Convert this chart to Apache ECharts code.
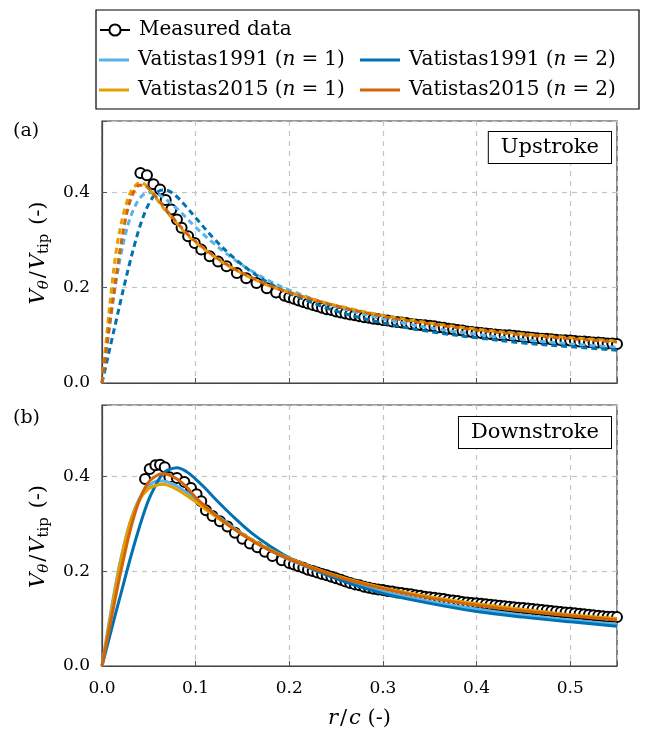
<!DOCTYPE html>
<html><head><meta charset="utf-8">
<script src="https://cdn.jsdelivr.net/npm/echarts@6/dist/echarts.min.js"></script>
<style>html,body{margin:0;padding:0;background:#fff}#c{width:646px;height:731px}</style>
</head><body><div id="c"></div>
<script>
// ---------- DATA ----------
const seriesNames = ['Measured data', 'Vatistas1991 (n = 1)', 'Vatistas1991 (n = 2)', 'Vatistas2015 (n = 1)', 'Vatistas2015 (n = 2)'];
const xTicks = [0.0, 0.1, 0.2, 0.3, 0.4, 0.5];
const yTicks = [0.0, 0.2, 0.4];

// (a) Upstroke - measured
const rMeasUp = [0.041,0.048,0.055,0.062,0.068,0.074,0.080,0.085,0.092,0.099,0.106,0.115,0.124,0.133,0.144,0.154,0.165,0.176,0.186,0.195,
  0.200,0.205,0.210,0.215,0.220,0.225,0.230,0.235,0.240,0.245,0.250,0.255,0.260,0.265,0.270,0.275,0.280,0.285,0.290,0.295,
  0.300,0.305,0.310,0.315,0.320,0.325,0.330,0.335,0.340,0.345,0.350,0.355,0.360,0.365,0.370,0.375,0.380,0.385,0.390,0.395,
  0.400,0.405,0.410,0.415,0.420,0.425,0.430,0.435,0.440,0.445,0.450,0.455,0.460,0.465,0.470,0.475,0.480,0.485,0.490,0.495,
  0.500,0.505,0.510,0.515,0.520,0.525,0.530,0.535,0.540,0.545,0.550];
const vMeasUp = [0.441,0.436,0.417,0.406,0.384,0.364,0.343,0.326,0.308,0.294,0.280,0.266,0.255,0.245,0.231,0.220,0.210,0.199,0.190,0.183,
  0.180,0.177,0.173,0.170,0.167,0.164,0.161,0.158,0.155,0.153,0.150,0.148,0.146,0.144,0.142,0.140,0.138,0.137,0.135,0.134,
  0.132,0.131,0.129,0.128,0.127,0.126,0.124,0.123,0.122,0.121,0.120,0.119,0.117,0.116,0.114,0.113,0.111,0.110,0.108,0.107,
  0.106,0.105,0.104,0.103,0.102,0.101,0.100,0.100,0.099,0.098,0.097,0.096,0.095,0.094,0.093,0.093,0.092,0.091,0.090,0.090,
  0.089,0.088,0.087,0.087,0.086,0.085,0.085,0.084,0.083,0.083,0.082];

// (a) Upstroke - models
const rModelUp = [0,0.005,0.01,0.015,0.02,0.025,0.03,0.035,0.04,0.045,0.05,0.055,0.06,0.065,0.07,0.08,0.09,0.1,0.12,0.14,0.16,0.18,0.2,0.25,0.3,0.35,0.4,0.45,0.5,0.55];
const v91n1Up = [0,0.076,0.148,0.213,0.268,0.312,0.346,0.370,0.387,0.396,0.400,0.399,0.396,0.390,0.383,0.366,0.347,0.327,0.292,0.261,0.235,0.213,0.195,0.160,0.135,0.116,0.102,0.091,0.082,0.075];
const v91n2Up = [0,0.043,0.087,0.130,0.173,0.215,0.255,0.292,0.326,0.354,0.376,0.392,0.402,0.405,0.404,0.391,0.370,0.347,0.302,0.264,0.233,0.208,0.188,0.151,0.126,0.108,0.095,0.084,0.076,0.069];
const v15n1Up = [0,0.100,0.195,0.275,0.330,0.370,0.398,0.413,0.420,0.418,0.408,0.395,0.382,0.369,0.357,0.335,0.313,0.295,0.265,0.240,0.220,0.203,0.190,0.163,0.142,0.126,0.113,0.103,0.095,0.088];
const v15n2Up = [0,0.075,0.150,0.222,0.288,0.343,0.382,0.405,0.415,0.415,0.408,0.397,0.385,0.372,0.360,0.337,0.315,0.297,0.266,0.241,0.221,0.204,0.190,0.162,0.140,0.124,0.111,0.101,0.093,0.086];

// (b) Downstroke - measured
const rMeasDn = [0.046,0.051,0.057,0.062,0.067,0.072,0.080,0.088,0.095,0.101,0.106,0.111,0.118,0.126,0.134,0.142,0.150,0.158,0.166,0.174,0.182,0.192,
  0.200,0.205,0.210,0.215,0.220,0.225,0.230,0.235,0.240,0.245,0.250,0.255,0.260,0.265,0.270,0.275,0.280,0.285,0.290,0.295,
  0.300,0.305,0.310,0.315,0.320,0.325,0.330,0.335,0.340,0.345,0.350,0.355,0.360,0.365,0.370,0.375,0.380,0.385,0.390,0.395,
  0.400,0.405,0.410,0.415,0.420,0.425,0.430,0.435,0.440,0.445,0.450,0.455,0.460,0.465,0.470,0.475,0.480,0.485,0.490,0.495,
  0.500,0.505,0.510,0.515,0.520,0.525,0.530,0.535,0.540,0.545,0.550];
const vMeasDn = [0.394,0.415,0.423,0.424,0.419,0.398,0.396,0.388,0.375,0.362,0.347,0.328,0.316,0.305,0.294,0.281,0.268,0.258,0.250,0.241,0.232,0.223,
  0.217,0.214,0.210,0.207,0.203,0.200,0.197,0.194,0.191,0.188,0.185,0.182,0.178,0.175,0.172,0.170,0.167,0.165,0.163,0.161,
  0.160,0.158,0.157,0.155,0.154,0.152,0.151,0.149,0.148,0.146,0.145,0.144,0.142,0.141,0.139,0.138,0.137,0.135,0.134,0.133,
  0.132,0.131,0.130,0.129,0.128,0.127,0.126,0.125,0.124,0.123,0.122,0.121,0.120,0.119,0.118,0.117,0.116,0.115,0.114,0.113,
  0.112,0.111,0.110,0.109,0.108,0.107,0.106,0.105,0.104,0.104,0.103];

// (b) Downstroke - models
const rModelDn = [0,0.005,0.01,0.015,0.02,0.03,0.04,0.05,0.06,0.065,0.07,0.08,0.09,0.1,0.11,0.12,0.14,0.16,0.18,0.2,0.25,0.3,0.35,0.4,0.45,0.5,0.55];
const v91n1Dn = [0,0.062,0.121,0.176,0.225,0.303,0.353,0.380,0.390,0.390,0.388,0.379,0.366,0.352,0.336,0.321,0.292,0.266,0.243,0.224,0.185,0.157,0.136,0.120,0.107,0.097,0.088];
const v91n2Dn = [0,0.038,0.076,0.114,0.151,0.225,0.293,0.351,0.391,0.405,0.413,0.418,0.410,0.394,0.375,0.354,0.315,0.280,0.252,0.228,0.184,0.153,0.132,0.115,0.103,0.093,0.084];
const v15n1Dn = [0,0.058,0.115,0.170,0.222,0.302,0.350,0.374,0.382,0.383,0.381,0.372,0.360,0.346,0.331,0.317,0.290,0.266,0.245,0.227,0.191,0.165,0.146,0.131,0.119,0.108,0.100];
const v15n2Dn = [0,0.050,0.100,0.150,0.198,0.285,0.350,0.388,0.403,0.405,0.404,0.394,0.378,0.355,0.337,0.320,0.290,0.264,0.243,0.225,0.189,0.163,0.143,0.128,0.116,0.106,0.097];

// ---------- STYLE ----------
const colors = ['#000000', '#56B4E9', '#0072B2', '#E69F00', '#D2640A'];
const FONT = '"DejaVu Serif", serif';

const zip = (r, v) => r.map((x, i) => [x, v[i]]);

function measuredSeries(idx, r, v) {
  return { name: seriesNames[0], type: 'line', xAxisIndex: idx, yAxisIndex: idx,
    data: zip(r, v), symbol: 'emptyCircle', symbolSize: 10, showSymbol: true,
    lineStyle: { color: '#000', width: 2 }, itemStyle: { color: '#000', borderColor: '#000', borderWidth: 1.6 },
    z: 2, animation: false };
}
function modelSeries(idx, k, r, v, dashed) {
  return { name: seriesNames[k], type: 'line', xAxisIndex: idx, yAxisIndex: idx,
    data: zip(r, v), symbol: 'none', smooth: 0.35,
    lineStyle: { color: colors[k], width: 3, type: dashed ? [6, 4] : 'solid' },
    itemStyle: { color: colors[k] }, z: 3, animation: false };
}

const series = [
  measuredSeries(1, rMeasDn, vMeasDn),
  modelSeries(1, 1, rModelDn, v91n1Dn, false),
  modelSeries(1, 2, rModelDn, v91n2Dn, false),
  modelSeries(1, 3, rModelDn, v15n1Dn, false),
  modelSeries(1, 4, rModelDn, v15n2Dn, false),
  measuredSeries(0, rMeasUp, vMeasUp),
  modelSeries(0, 1, rModelUp, v91n1Up, true),
  modelSeries(0, 2, rModelUp, v91n2Up, true),
  modelSeries(0, 3, rModelUp, v15n1Up, true),
  modelSeries(0, 4, rModelUp, v15n2Up, true)
];

const splitLine = { show: true, lineStyle: { color: '#c4c4c4', type: [5, 5], width: 1.2 } };
const fmtTick = (ticks) => (v) => { const t = ticks.find(x => Math.abs(x - v) < 1e-6); return t === undefined ? '' : t.toFixed(1); };

function xAxis(idx, showLabels) {
  return { type: 'value', gridIndex: idx, min: 0, max: 0.55, interval: 0.1,
    axisLine: { show: true, onZero: false, lineStyle: { color: '#444', width: 1.2 } },
    axisTick: { show: true, inside: true, length: 5, lineStyle: { color: '#555' } },
    axisLabel: { show: showLabels, formatter: fmtTick(xTicks), color: '#000', fontFamily: FONT, fontSize: 17, margin: 14 },
    splitLine,
    name: showLabels ? '{i|r}{s|/}{i|c}{n| (-)}' : '', nameLocation: 'middle', nameGap: 42,
    nameTextStyle: { color: '#000', fontFamily: FONT, fontSize: 21,
      rich: { i: { fontStyle: 'italic', fontFamily: FONT, fontSize: 21, color: '#000' },
              s: { fontFamily: FONT, fontSize: 21, color: '#000', padding: [0, 2, 0, 2] },
              n: { fontFamily: FONT, fontSize: 21, color: '#000' } } } };
}
function yAxis(idx) {
  return { type: 'value', gridIndex: idx, min: 0, max: 0.55, interval: 0.2,
    axisLine: { show: true, onZero: false, lineStyle: { color: '#444', width: 1.2 } },
    axisTick: { show: true, inside: true, length: 5, lineStyle: { color: '#555' } },
    axisLabel: { formatter: fmtTick(yTicks), color: '#000', fontFamily: FONT, fontSize: 17, margin: 12 },
    splitLine,
    name: '{i|V}{s|θ}{n|/}{i|V}{t|tip}{n| (-)}', nameLocation: 'middle', nameGap: 48, nameRotate: 90,
    nameTextStyle: { color: '#000', fontFamily: FONT, fontSize: 21,
      rich: {
        i: { fontStyle: 'italic', fontFamily: FONT, fontSize: 21, color: '#000', lineHeight: 28 },
        n: { fontFamily: FONT, fontSize: 21, color: '#000', lineHeight: 28, padding: [0, 2, 0, 2] },
        s: { fontStyle: 'italic', fontFamily: FONT, fontSize: 15, color: '#000', verticalAlign: 'bottom', lineHeight: 15 },
        t: { fontFamily: FONT, fontSize: 15, color: '#000', verticalAlign: 'bottom', lineHeight: 15 }
      } } };
}

const legendPos = [[99, 20], [99, 50], [360, 50], [99, 80], [360, 80]];
const legendIconW = [30, 30, 40, 30, 40];
const legends = seriesNames.map((nm, k) => ({
  data: [k === 0 ? { name: nm } : { name: nm, icon: 'rect' }],
  left: legendPos[k][0], top: legendPos[k][1], padding: 0,
  itemWidth: legendIconW[k], itemHeight: k === 0 ? 14 : 3, selectedMode: false,
  formatter: (name) => name.replace(/\(n = (\d)\)/, '({i|n}{e|=}$1)'),
  textStyle: { color: '#000', fontFamily: FONT, fontSize: 20, padding: [0, 0, 0, 4],
    rich: { i: { fontStyle: 'italic', fontFamily: FONT, fontSize: 20, color: '#000' },
            e: { fontFamily: FONT, fontSize: 20, color: '#000', padding: [0, 6, 0, 6] } } }
}));

const boxText = (txt, right, top) => ({ type: 'text', right, top, z: 100,
  style: { text: txt, font: '21px ' + FONT, fill: '#000', backgroundColor: '#fff',
    borderColor: '#000', borderWidth: 1, padding: [5, 12, 5, 12] } });

const option = {
  backgroundColor: '#fff',
  animation: false,
  grid: [
    { left: 102, top: 121, width: 515, height: 262, show: true, borderColor: '#333', borderWidth: 1.2 },
    { left: 102, top: 405, width: 515, height: 261, show: true, borderColor: '#333', borderWidth: 1.2 }
  ],
  xAxis: [xAxis(0, false), xAxis(1, true)],
  yAxis: [yAxis(0), yAxis(1)],
  legend: legends,
  series,
  graphic: [
    { type: 'rect', shape: { x: 96, y: 10, width: 543, height: 99 }, style: { fill: 'none', stroke: '#000', lineWidth: 1.2 }, z: 100 },
    { type: 'text', x: 13, y: 122, style: { text: '(a)', font: '19px ' + FONT, fill: '#000' } },
    { type: 'text', x: 13, y: 409, style: { text: '(b)', font: '19px ' + FONT, fill: '#000' } },
    boxText('Upstroke', 34, 131),
    boxText('Downstroke', 34, 416)
  ]
};

const chart = echarts.init(document.getElementById('c'), null, { renderer: 'canvas' });
chart.setOption(option);
</script>
</body></html>
